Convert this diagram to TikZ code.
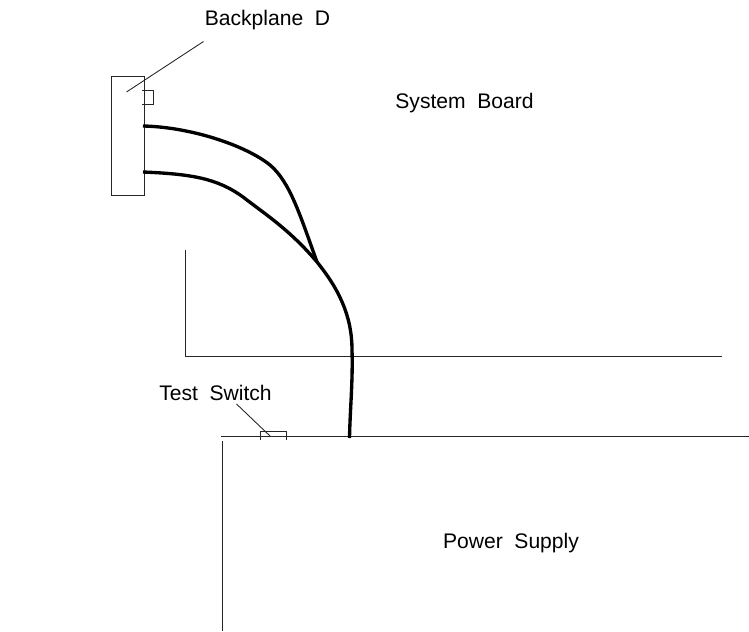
\documentclass[tikz,border=0pt]{standalone}
\usepackage{fontspec}
\setmainfont{Liberation Sans}
\usetikzlibrary{calc}
\tikzset{
  thinline/.style={line width=0.5pt,black!85},
  cable/.style={line width=1.9pt,black,line join=round},
  lbl/.style={font=\fontsize{12}{14}\selectfont,inner sep=0pt}
}
\begin{document}
\begin{tikzpicture}[x=0.02cm,y=-0.02cm]
  \useasboundingbox (0,0) rectangle (749,631);
  % Labels
  \node[lbl] (backlabel) at (267.5,20){Backplane\hspace{0.55em}D};
  \node[lbl] (boardlabel) at (464.5,103){System\hspace{0.55em}Board};
  \node[lbl] (switchlabel) at (215.5,392.5){Test\hspace{0.55em}Switch};
  \node[lbl] (supplylabel) at (511,543.5){Power\hspace{0.55em}Supply};
  % Backplane and its connector
  \node[draw,thinline,minimum width=0.65cm,minimum height=2.37cm,inner sep=0pt] (backplane) at (128,136){};
  \draw[thinline] (142,90.5)--(153.5,90.5)--(153.5,104)--(142,104);
  \coordinate (backtip) at (126.5,92);
  \coordinate (backend) at (203.5,41.5);
  \draw[thinline] (backend)--(backtip);
  % System board edges
  \draw[thinline] (185.5,250)--(185.5,356)--(722,356);
  % Power supply edges
  \draw[thinline] (221,436)--(749,436);
  \draw[thinline] (222.5,441)--(222.5,631);
  % Test switch
  \draw[thinline] (260.5,439.5)--(260.5,431.5)--(286.5,431.5)--(286.5,439.5);
  \coordinate (switchtip) at (270,436);
  \coordinate (switchend) at (236.5,404);
  \draw[thinline] (switchend)--(switchtip);
  % Cables
  \coordinate (upper) at (143,126);
  \coordinate (lower) at (143,172);
  \coordinate (join) at (317,262);
  \coordinate (plug) at (349.5,438);
  \draw[cable] (upper) .. controls (190,127) and (245,145) .. (270,165) .. controls (290,182) and (300,215) .. (join);
  \draw[cable] (lower) .. controls (190,174) and (217,178) .. (243,197) .. controls (265,214) and (290,230) .. (join)
    .. controls (338,288) and (352,315) .. (352,350) .. controls (353,380) and (350,410) .. (plug);
\end{tikzpicture}
\end{document}
